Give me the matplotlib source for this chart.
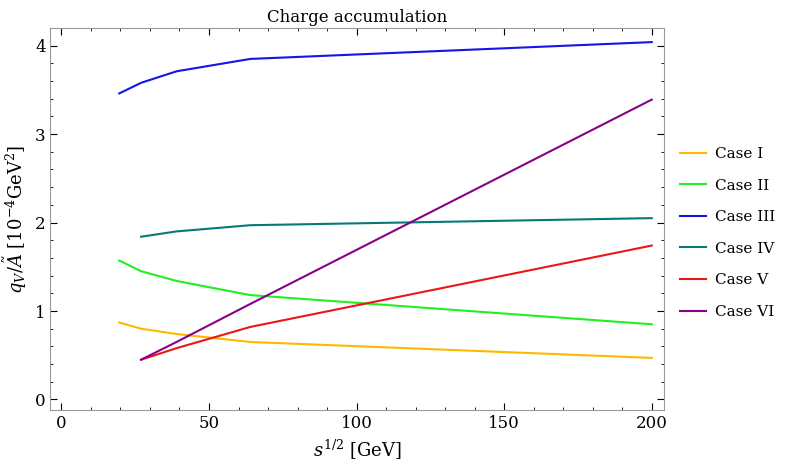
import numpy as np
import matplotlib.pyplot as plt
from matplotlib.ticker import MultipleLocator

plt.rcParams['font.family'] = 'DejaVu Serif'
plt.rcParams['mathtext.fontset'] = 'dejavuserif'

# sqrt(s) values in GeV
energy = [19.6, 27, 39, 64, 200]
energy_b = [27, 39, 64, 200]

case_1 = [0.87, 0.80, 0.74, 0.65, 0.47]
case_2 = [1.57, 1.45, 1.34, 1.18, 0.85]
case_3 = [3.46, 3.58, 3.71, 3.85, 4.04]
case_4 = [1.84, 1.90, 1.97, 2.05]
case_5 = [0.45, 0.58, 0.82, 1.74]
case_6 = [0.45, 0.65, 1.08, 3.39]

labels = ['Case I', 'Case II', 'Case III', 'Case IV', 'Case V', 'Case VI']
colors = ['#FFB700', '#22EE22', '#1515E8', '#087878', '#EE1515', '#880088']

fig = plt.figure(figsize=(7.89, 4.66), dpi=100)
ax = fig.add_axes([0.064, 0.12, 0.777, 0.82])

series = [(energy, case_1), (energy, case_2), (energy, case_3),
          (energy_b, case_4), (energy_b, case_5), (energy_b, case_6)]
for (x, y), lab, c in zip(series, labels, colors):
    ax.plot(x, y, color=c, lw=1.5, label=lab)

ax.set_xlim(-3.7, 204)
ax.set_ylim(-0.12, 4.2)
ax.xaxis.set_major_locator(MultipleLocator(50))
ax.xaxis.set_minor_locator(MultipleLocator(10))
ax.yaxis.set_major_locator(MultipleLocator(1))
ax.yaxis.set_minor_locator(MultipleLocator(0.2))
ax.tick_params(which='both', direction='in', top=True, right=True, labelsize=12)
ax.tick_params(which='major', length=5)
ax.tick_params(which='minor', length=2.5)
for s in ax.spines.values():
    s.set_color('#999999')

ax.set_title('Charge accumulation', fontsize=12, pad=4)
ax.set_xlabel(r'$s^{1/2}$ [GeV]', fontsize=13)
ax.set_ylabel(r'$q_V/\tilde{A}$ [$10^{-4}$GeV$^2$]', fontsize=13)

fig.legend(loc='center left', bbox_to_anchor=(0.862, 0.5), frameon=False,
           fontsize=11, handlelength=1.7, handletextpad=0.6,
           borderpad=0, borderaxespad=0, labelspacing=1.15)

fig.savefig('out.png', dpi=100)
